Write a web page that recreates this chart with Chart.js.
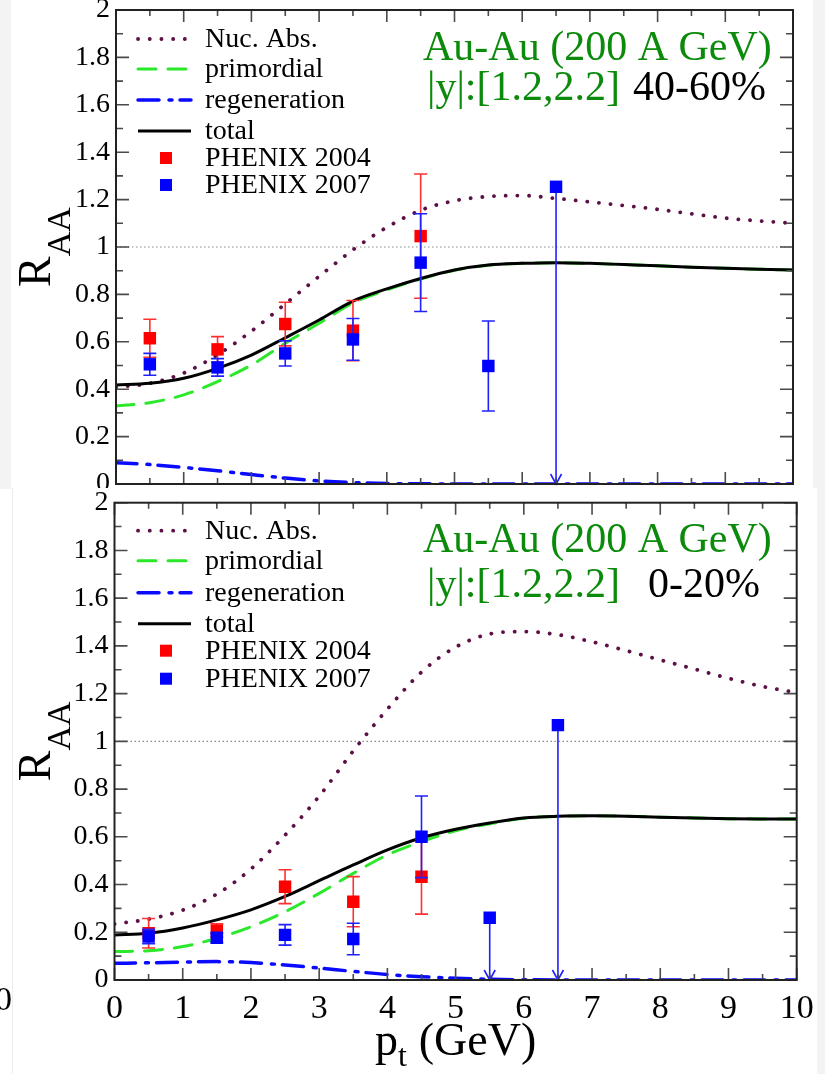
<!DOCTYPE html>
<html>
<head>
<meta charset="utf-8">
<title>J/psi R_AA forward rapidity</title>
<script src="https://cdn.jsdelivr.net/npm/chart.js@4.4.1/dist/chart.umd.min.js"></script>
<style>
  body { margin: 0; width: 825px; height: 1074px; position: relative; overflow: hidden; background: #fff; }
  canvas { position: absolute; left: 0; }
  #topPanel { top: 0; }
  #bottomPanel { top: 488px; background: #fff; }
  .strip { position: absolute; background: #f3f3f3; z-index: 2; }
  .edge { position: absolute; left: 12px; top: 488px; width: 1px; height: 586px; background: #ececec; z-index: 2; }
  .stray { position: absolute; left: -5px; top: 982px; font: 34px 'Liberation Serif', serif; line-height: 34px; color: #000; z-index: 3; }
</style>
</head>
<body>
<canvas id="topPanel" width="825" height="488"></canvas>
<canvas id="bottomPanel" width="825" height="586"></canvas>
<div class="strip" style="left:0;top:0;width:11px;height:489px"></div>
<div class="strip" style="left:813px;top:0;width:12px;height:488px"></div>
<div class="strip" style="left:817px;top:488px;width:8px;height:586px"></div>
<div class="edge"></div>
<div class="stray">0</div>
<script>
// p_t grid the model curves are tabulated on (GeV)
const ptGrid = [0, 0.5, 1, 1.5, 2, 2.5, 3, 3.5, 4, 4.5, 5, 5.5, 6, 6.5, 7, 7.5, 8, 8.5, 9, 9.5, 10];

// 40-60% centrality
const nucAbs4060 = [0.408, 0.425, 0.468, 0.545, 0.645, 0.76, 0.876, 0.988, 1.083, 1.155, 1.195, 1.213, 1.217, 1.205, 1.19, 1.175, 1.159, 1.14, 1.122, 1.11, 1.10];
const primordial4060 = [0.329, 0.343, 0.376, 0.432, 0.502, 0.594, 0.678, 0.764, 0.819, 0.865, 0.902, 0.923, 0.931, 0.934, 0.931, 0.926, 0.921, 0.915, 0.91, 0.906, 0.903];
const regen4060 = [0.09, 0.082, 0.07, 0.056, 0.04, 0.025, 0.013, 0.006, 0.002, 0.001, 0, 0, 0, 0, 0, 0, 0, 0, 0, 0, 0];
const total4060 = [0.418, 0.425, 0.446, 0.488, 0.544, 0.617, 0.692, 0.772, 0.823, 0.867, 0.903, 0.924, 0.931, 0.934, 0.931, 0.926, 0.921, 0.915, 0.91, 0.906, 0.903];

// 0-20% centrality
const nucAbs020 = [0.235, 0.255, 0.293, 0.36, 0.465, 0.607, 0.77, 0.96, 1.135, 1.29, 1.395, 1.45, 1.46, 1.447, 1.417, 1.38, 1.341, 1.303, 1.264, 1.23, 1.204];
const primordial020 = [0.119, 0.123, 0.14, 0.175, 0.223, 0.286, 0.363, 0.447, 0.524, 0.58, 0.625, 0.655, 0.678, 0.686, 0.688, 0.686, 0.682, 0.679, 0.676, 0.675, 0.675];
const regen020 = [0.07, 0.072, 0.075, 0.077, 0.073, 0.063, 0.05, 0.036, 0.023, 0.014, 0.007, 0.003, 0.001, 0, 0, 0, 0, 0, 0, 0, 0];
const total020 = [0.189, 0.196, 0.218, 0.252, 0.294, 0.35, 0.416, 0.482, 0.545, 0.596, 0.632, 0.658, 0.679, 0.686, 0.688, 0.686, 0.682, 0.679, 0.676, 0.675, 0.675];

// PHENIX data
const phenix04Pt = [0.5, 1.5, 2.5, 3.5, 4.5];
const phenix04_4060 = [0.615, 0.568, 0.675, 0.647, 1.046];
const phenix04Err4060 = [0.08, 0.054, 0.092, 0.127, 0.262];
const phenix04_020 = [0.196, 0.207, 0.391, 0.328, 0.433];
const phenix04Err020 = [0.062, 0.028, 0.071, 0.105, 0.157];

const phenix07Pt = [0.5, 1.5, 2.5, 3.5, 4.5, 5.5, 6.5];
const phenix07_4060 = [0.505, 0.492, 0.551, 0.61, 0.934, 0.498, 1.254];
const phenix07Err4060 = [0.046, 0.037, 0.053, 0.088, 0.206, 0.19, null];
const phenix07Lim4060 = [false, false, false, false, false, false, true];
const phenix07_020 = [0.182, 0.177, 0.189, 0.172, 0.6, 0.261, 1.068];
const phenix07Err020 = [0.03, 0.02, 0.043, 0.066, 0.171, null, null];
const phenix07Lim020 = [false, false, false, false, false, true, true];

const systemLabel = 'Au-Au (200 A GeV)';
const rapidityLabel = '|y|:[1.2,2.2]';
const yTicks = [0, 0.2, 0.4, 0.6, 0.8, 1, 1.2, 1.4, 1.6, 1.8, 2];
const xTicks = [0, 1, 2, 3, 4, 5, 6, 7, 8, 9, 10];

const serif = "'Liberation Serif', 'Times New Roman', serif";
const GREEN_TXT = '#0b8a0b';

const toXY = (xs, ys) => xs.map((x, i) => ({ x: x, y: ys[i] }));

const curve = (label, ys, color, width, dash, order) => ({
  type: 'line', label: label, data: toXY(ptGrid, ys),
  borderColor: color, borderWidth: width, borderDash: dash,
  borderCapStyle: dash.length ? 'round' : 'butt',
  pointRadius: 0, fill: false, cubicInterpolationMode: 'monotone', order: order
});

const points = (label, xs, ys, errs, lims, color, barColor, order) => ({
  type: 'scatter', label: label, data: toXY(xs, ys),
  pointStyle: 'rect', pointRadius: 8.8, borderWidth: 0,
  backgroundColor: color, errors: errs, limits: lims, barColor: barColor, order: order
});

function drawRaa(ctx, xBase, yMid) {
  ctx.save();
  ctx.font = '46px ' + serif;
  const wR = ctx.measureText('R').width;
  ctx.font = '34px ' + serif;
  const wA = ctx.measureText('AA').width;
  ctx.translate(xBase, yMid + (wR + wA) / 2);
  ctx.rotate(-Math.PI / 2);
  ctx.fillStyle = '#000';
  ctx.textAlign = 'left';
  ctx.textBaseline = 'alphabetic';
  ctx.font = '46px ' + serif;
  ctx.fillText('R', 0, 0);
  ctx.font = '34px ' + serif;
  ctx.fillText('AA', wR, 20);
  ctx.restore();
}

function drawPtTitle(ctx, xMid, base) {
  ctx.save();
  ctx.fillStyle = '#000';
  ctx.textAlign = 'left';
  ctx.textBaseline = 'alphabetic';
  ctx.font = '46px ' + serif;
  const wp = ctx.measureText('p').width;
  const wg = ctx.measureText('(GeV)').width;
  ctx.font = '32px ' + serif;
  const wt = ctx.measureText('t').width;
  const gap = 12;
  let x = xMid - (wp + wt + gap + wg) / 2;
  ctx.font = '46px ' + serif;
  ctx.fillText('p', x, base);
  x += wp;
  ctx.font = '32px ' + serif;
  ctx.fillText('t', x, base + 11);
  x += wt + gap;
  ctx.font = '46px ' + serif;
  ctx.fillText('(GeV)', x, base);
  ctx.restore();
}

const panelDecor = {
  id: 'panelDecor',
  beforeDatasetsDraw(chart) {
    // dotted reference line at R_AA = 1
    const { ctx, chartArea: a } = chart;
    const py = chart.scales.y.getPixelForValue(1);
    ctx.save();
    ctx.strokeStyle = '#8c8c8c';
    ctx.lineWidth = 1.2;
    ctx.setLineDash([1.5, 2.5]);
    ctx.beginPath();
    ctx.moveTo(a.left, py);
    ctx.lineTo(a.right, py);
    ctx.stroke();
    ctx.restore();
  },
  beforeDatasetDraw(chart, args) {
    const ds = chart.data.datasets[args.index];
    if (!ds.errors) return;
    const { ctx } = chart;
    const xs = chart.scales.x, ys = chart.scales.y;
    ctx.save();
    ctx.strokeStyle = ds.barColor;
    ctx.lineWidth = 1.6;
    ds.data.forEach((p, i) => {
      const px = xs.getPixelForValue(p.x);
      const py = ys.getPixelForValue(p.y);
      ctx.beginPath();
      if (ds.limits && ds.limits[i]) {
        // upper limit: line down to zero with an open arrow head
        const p0 = ys.getPixelForValue(0);
        ctx.moveTo(px, py);
        ctx.lineTo(px, p0);
        ctx.moveTo(px - 5.5, p0 - 10);
        ctx.lineTo(px, p0);
        ctx.lineTo(px + 5.5, p0 - 10);
      } else if (ds.errors[i] != null) {
        const hi = ys.getPixelForValue(p.y + ds.errors[i]);
        const lo = ys.getPixelForValue(p.y - ds.errors[i]);
        ctx.moveTo(px, hi); ctx.lineTo(px, lo);
        ctx.moveTo(px - 6.5, hi); ctx.lineTo(px + 6.5, hi);
        ctx.moveTo(px - 6.5, lo); ctx.lineTo(px + 6.5, lo);
      }
      ctx.stroke();
    });
    ctx.restore();
  },
  afterDraw(chart, args, opts) {
    const { ctx, chartArea: a } = chart;
    const xs = chart.scales.x, ys = chart.scales.y;
    ctx.save();

    // inward ticks on all four sides
    ctx.strokeStyle = '#4a4a4a';
    ctx.lineWidth = 1.6;
    ctx.beginPath();
    for (let i = 0; i <= 20; i++) {
      const px = xs.getPixelForValue(i / 2);
      const len = i % 2 === 0 ? 12 : 6;
      ctx.moveTo(px, a.bottom); ctx.lineTo(px, a.bottom - len);
      ctx.moveTo(px, a.top); ctx.lineTo(px, a.top + len);
    }
    for (let j = 0; j <= 20; j++) {
      const py = ys.getPixelForValue(j / 10);
      const len = j % 2 === 0 ? 13 : 7;
      ctx.moveTo(a.left, py); ctx.lineTo(a.left + len, py);
      ctx.moveTo(a.right, py); ctx.lineTo(a.right - len, py);
    }
    ctx.stroke();

    ctx.strokeStyle = '#222';
    ctx.lineWidth = 2;
    ctx.strokeRect(a.left, a.top, a.right - a.left, a.bottom - a.top);

    // legend
    ctx.textAlign = 'left';
    ctx.textBaseline = 'middle';
    ctx.font = '28px ' + serif;
    chart.data.datasets.forEach((ds, i) => {
      const ry = a.top + opts.rowY[i];
      if (ds.type === 'line') {
        ctx.save();
        ctx.strokeStyle = ds.borderColor;
        ctx.lineWidth = ds.borderWidth;
        ctx.setLineDash(ds.borderDash);
        ctx.lineCap = ds.borderCapStyle;
        ctx.beginPath();
        ctx.moveTo(138, ry);
        ctx.lineTo(191, ry);
        ctx.stroke();
        ctx.restore();
      } else {
        ctx.fillStyle = ds.backgroundColor;
        ctx.fillRect(160, ry - 6, 12, 12);
      }
      ctx.fillStyle = '#000';
      ctx.fillText(ds.label, 205, ry + 1);
    });

    // collision system / rapidity / centrality
    ctx.textBaseline = 'alphabetic';
    ctx.font = '42px ' + serif;
    ctx.fillStyle = GREEN_TXT;
    ctx.fillText(systemLabel, 423, a.top + opts.titleDy);
    ctx.fillText(rapidityLabel, 427, a.top + opts.rapDy);
    ctx.fillStyle = '#000';
    ctx.fillText(opts.centrality, opts.centX, a.top + opts.rapDy);
    ctx.restore();

    drawRaa(ctx, 50, (a.top + a.bottom) / 2);
    if (opts.xTitle) drawPtTitle(ctx, (a.left + a.right) / 2, a.bottom + 75);
  }
};

// keep tick labels from pushing the plot frame inward
const noLabelPadding = (s) => { s.paddingTop = 0; s.paddingBottom = 0; s.paddingLeft = 0; s.paddingRight = 0; };

function makePanel(id, datasets, yAxisWidth, xAxisHeight, padding, showXLabels, decor) {
  new Chart(document.getElementById(id), {
    data: { datasets: datasets },
    options: {
      responsive: false,
      animation: false,
      devicePixelRatio: 1,
      events: [],
      layout: { padding: padding, autoPadding: false },
      plugins: { legend: { display: false }, tooltip: { enabled: false }, panelDecor: decor },
      scales: {
        x: {
          type: 'linear', min: 0, max: 10,
          grid: { display: false, drawTicks: false }, border: { display: false },
          afterBuildTicks: (s) => { s.ticks = xTicks.map(v => ({ value: v })); },
          afterFit: (s) => { s.height = xAxisHeight; noLabelPadding(s); },
          ticks: { display: showXLabels, color: '#000', padding: 9, font: { family: serif, size: 34 } }
        },
        y: {
          type: 'linear', min: 0, max: 2,
          grid: { display: false, drawTicks: false }, border: { display: false },
          afterBuildTicks: (s) => { s.ticks = yTicks.map(v => ({ value: v })); },
          afterFit: (s) => { s.width = yAxisWidth; noLabelPadding(s); },
          ticks: { color: '#000', padding: 6, font: { family: serif, size: 28 },
                   callback: (v) => String(Number(v.toFixed(1))) }
        }
      }
    },
    plugins: [panelDecor]
  });
}

makePanel('topPanel', [
  curve('Nuc. Abs.', nucAbs4060, '#5c1046', 3.8, [0.1, 11.6], 6),
  curve('primordial', primordial4060, '#2be82b', 3, [18, 12], 5),
  curve('regeneration', regen4060, '#0a0aff', 3.5, [21, 10, 3, 8], 4),
  curve('total', total4060, '#000', 3, [], 3),
  points('PHENIX 2004', phenix04Pt, phenix04_4060, phenix04Err4060, null, '#ff0000', '#ff3030', 2),
  points('PHENIX 2007', phenix07Pt, phenix07_4060, phenix07Err4060, phenix07Lim4060, '#0000ff', '#2020ff', 1)
], 116, 4, { left: 0, top: 10, right: 32, bottom: 0 }, false,
  { rowY: [29, 59, 90, 121, 148, 175], titleDy: 50, rapDy: 90, centrality: '40-60%', centX: 633, xTitle: false });

makePanel('bottomPanel', [
  curve('Nuc. Abs.', nucAbs020, '#5c1046', 3.8, [0.1, 11.6], 6),
  curve('primordial', primordial020, '#2be82b', 3, [18, 12], 5),
  curve('regeneration', regen020, '#0a0aff', 3.5, [21, 10, 3, 8], 4),
  curve('total', total020, '#000', 3, [], 3),
  points('PHENIX 2004', phenix04Pt, phenix04_020, phenix04Err020, null, '#ff0000', '#ff3030', 2),
  points('PHENIX 2007', phenix07Pt, phenix07_020, phenix07Err020, phenix07Lim020, '#0000ff', '#2020ff', 1)
], 114.5, 94, { left: 0, top: 14.7, right: 28.3, bottom: 0 }, true,
  { rowY: [28, 58, 90, 121, 148, 176], titleDy: 49, rapDy: 94, centrality: '0-20%', centX: 648, xTitle: true });
</script>
</body>
</html>
